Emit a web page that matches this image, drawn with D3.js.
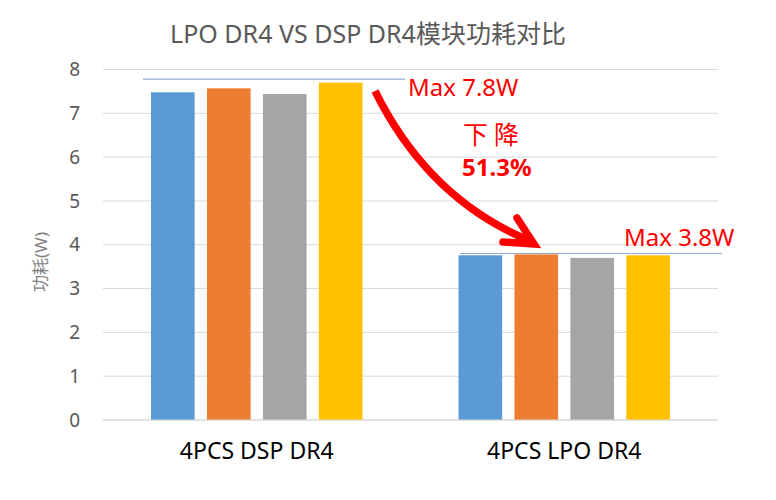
<!DOCTYPE html>
<html><head><meta charset="utf-8">
<script src="https://cdn.jsdelivr.net/npm/d3@7"></script>
<style>body{margin:0;background:#fff}svg{display:block}</style>
</head><body><div id="chart"></div>
<script>
const categories = ["4PCS DSP DR4", "4PCS LPO DR4"];
const seriesNames = ["S1", "S2", "S3", "S4"];
const seriesColors = ["#5b9bd5", "#ed7d31", "#a5a5a5", "#ffc000"];
const dspValues = [7.48, 7.57, 7.44, 7.70];
const lpoValues = [3.76, 3.78, 3.70, 3.76];
const yTicks = [0, 1, 2, 3, 4, 5, 6, 7, 8];
const maxValues = [7.78, 3.80];
const maxLabels = ["Max 7.8W", "Max 3.8W"];
const title = "LPO DR4 VS DSP DR4模块功耗对比";
const yTitle = "功耗(W)";
const dropLabel = "下降";
const dropPct = "51.3%";

const values = [dspValues, lpoValues];
const W = 776, H = 500;
const font = "'Noto Sans','Noto Sans CJK SC',sans-serif";
const svg = d3.select("#chart").append("svg").attr("width", W).attr("height", H);

const x0 = d3.scaleBand().domain(categories).range([103, 718]).paddingInner(0).paddingOuter(0);
const x1 = d3.scaleBand().domain(seriesNames).range([48, 307.5 - 48]).paddingInner(0.22).paddingOuter(0);
const y = d3.scaleLinear().domain([0, 8]).range([420, 69.5]);

// gridlines
svg.append("g").selectAll("line").data(yTicks).join("line")
  .attr("x1", 103).attr("x2", 718)
  .attr("y1", d => y(d)).attr("y2", d => y(d))
  .attr("stroke", "#d9d9d9").attr("stroke-width", 1);

// y tick labels
svg.append("g").selectAll("text").data(yTicks).join("text")
  .attr("x", 80).attr("y", d => y(d)).attr("dy", "0.35em")
  .attr("text-anchor", "end").attr("font-family", font).attr("font-size", 19)
  .attr("fill", "#595959").text(d => d);

// bars
const g = svg.append("g").selectAll("g").data(categories).join("g")
  .attr("transform", d => `translate(${x0(d)},0)`);
g.selectAll("rect").data((c, i) => values[i].map((v, j) => ({v, s: seriesNames[j], c: seriesColors[j]})))
  .join("rect")
  .attr("x", d => x1(d.s)).attr("width", x1.bandwidth())
  .attr("y", d => y(d.v)).attr("height", d => y(0) - y(d.v))
  .attr("fill", d => d.c);

// axis line
svg.append("line").attr("x1", 103).attr("x2", 718).attr("y1", y(0)).attr("y2", y(0))
  .attr("stroke", "#d9d9d9").attr("stroke-width", 1);

// x labels
svg.append("g").selectAll("text").data(categories).join("text")
  .attr("x", d => x0(d) + x0.bandwidth() / 2).attr("y", 459)
  .attr("text-anchor", "middle").attr("font-family", font).attr("font-size", 23)
  .attr("fill", "#000").text(d => d);

// max lines
const maxSpans = [[143, 405], [460, 722]];
maxValues.forEach((m, i) => {
  svg.append("line").attr("x1", maxSpans[i][0]).attr("x2", maxSpans[i][1])
    .attr("y1", y(m)).attr("y2", y(m)).attr("stroke", "#8faadc").attr("stroke-width", 1.2);
});
svg.append("text").attr("x", 408).attr("y", 96).attr("font-family", font).attr("font-size", 24)
  .attr("fill", "#ff0000").text(maxLabels[0]);
svg.append("text").attr("x", 624).attr("y", 246).attr("font-family", font).attr("font-size", 24)
  .attr("fill", "#ff0000").text(maxLabels[1]);

svg.append("text").attr("x", 463).attr("y", 144).attr("font-family", font).attr("font-size", 25)
  .attr("letter-spacing", 6).attr("fill", "#ff0000").text(dropLabel);
svg.append("text").attr("x", 462).attr("y", 176).attr("font-family", font).attr("font-size", 24)
  .attr("font-weight", "bold").attr("fill", "#ff0000").text(dropPct);

// arrow
svg.append("path").attr("d", "M375,91 Q428,198 528,240").attr("fill", "none")
  .attr("stroke", "#ff0000").attr("stroke-width", 7.5).attr("stroke-linecap", "butt");
svg.append("path").attr("d", "M517,218 L534,244 L503,242").attr("fill", "none")
  .attr("stroke", "#ff0000").attr("stroke-width", 7.5).attr("stroke-linejoin", "miter").attr("stroke-linecap", "round");

// title
svg.append("text").attr("x", 368).attr("y", 43).attr("text-anchor", "middle")
  .attr("font-family", font).attr("font-size", 25).attr("fill", "#595959").text(title);

// y title
svg.append("text").attr("transform", "translate(47,262) rotate(-90)").attr("text-anchor", "middle")
  .attr("font-family", font).attr("font-size", 17).attr("fill", "#7f7f7f").text(yTitle);
</script></body></html>
